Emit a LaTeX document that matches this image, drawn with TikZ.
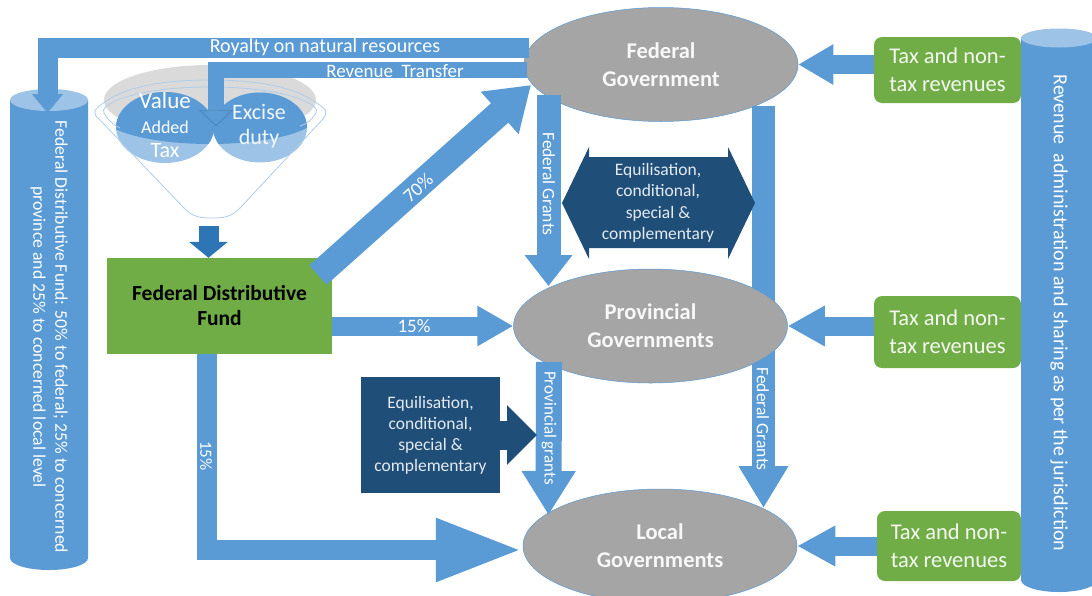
\documentclass[tikz,border=0pt]{standalone}
\usepackage{fontspec}
\setmainfont{Carlito}
\usetikzlibrary{shapes.geometric,arrows.meta}
\definecolor{barblue}{HTML}{5B9BD5}
\definecolor{lightblue}{HTML}{9DC3E6}
\definecolor{midblue}{HTML}{2E75B6}
\definecolor{navy}{HTML}{1F4E79}
\definecolor{govgrey}{HTML}{A5A5A5}
\definecolor{boxgreen}{HTML}{70AD47}
\definecolor{funnelgrey}{HTML}{DADADA}
\definecolor{funnelline}{HTML}{AECDEA}
\newcommand{\fs}[2]{\fontsize{#1}{#2}\selectfont}
\tikzset{
  gov/.style={ellipse,fill=govgrey,draw=barblue,line width=.5pt,minimum width=274pt,minimum height=114pt,inner sep=0pt,text=white!92!govgrey,align=center,font=\fs{22.5}{28}\bfseries},
  taxbox/.style={rectangle,rounded corners=8pt,fill=boxgreen,minimum width=147pt,inner sep=0pt,text=white!92!boxgreen,align=center,font=\fs{22.5}{28}},
  navybox/.style={rectangle,fill=navy,inner sep=0pt,text=white!88!navy,align=center,font=\fs{17.5}{21}},
  wlabel/.style={inner sep=0pt,text=white,align=center},
  bar/.style={draw=barblue,line join=miter},
  funnel/.style={draw=funnelline,line width=.8pt},
  cyl/.style={fill=barblue},
  cyltop/.style={fill=lightblue}
}
\begin{document}
\begin{tikzpicture}[x=1pt,y=-1pt]
\useasboundingbox (0,0) rectangle (1092,595);
\fill[white] (0,0) rectangle (1092,595);

% cylinders
\fill[cyl] (10,100) -- (10,558) arc[start angle=180,end angle=360,x radius=39,y radius=-12] -- (88,100) -- cycle;
\fill[cyltop] (49,100) ellipse[x radius=39,y radius=11];
\fill[cyl] (1021,38) -- (1021,580) arc[start angle=180,end angle=360,x radius=38,y radius=-12] -- (1097,38) -- cycle;
\fill[cyltop] (1059,38) ellipse[x radius=38,y radius=9.5];
\node[wlabel,rotate=-90,font=\fs{17.7}{22}] (leftcyl) at (49,337) {Federal Distributive Fund: 50\% to federal; 25\% to concerned\\province and 25\% to concerned local level};
\node[wlabel,rotate=-90,font=\fs{20}{22}] (rightcyl) at (1059,313) {Revenue\ \ administration and sharing as per the jurisdiction};

% funnel
\fill[funnelgrey] (210,100) ellipse[x radius=106,y radius=35];
\begin{scope}
  \fill[lightblue] (165,127.5) ellipse[x radius=49,y radius=35.5];
  \fill[lightblue] (260,127.5) ellipse[x radius=47,y radius=35];
  \clip (210,115) ellipse[x radius=108,y radius=29];
  \fill[barblue] (165,127.5) ellipse[x radius=49,y radius=35.5];
  \fill[barblue] (260,127.5) ellipse[x radius=47,y radius=35];
\end{scope}
\draw[funnel] (102,104) .. controls (125,86) and (165,80) .. (210,80) .. controls (255,80) and (295,86) .. (318,104) .. controls (328,110) and (327,114) .. (323,119) -- (240,208) .. controls (232,216) and (226,218) .. (212,218) .. controls (198,218) and (192,216) .. (184,208) -- (99,119) .. controls (93,114) and (93,110) .. (102,104) -- cycle;
\draw[funnel] (104,113) .. controls (98,106) and (130,87) .. (210,87) .. controls (290,87) and (322,106) .. (316,113) .. controls (310,122) and (306,124) .. (300,126);
\draw[funnel] (104,113) .. controls (108,120) and (112,124) .. (120,128);

% federal government first, its outgoing bars lie over it
\node[gov] (fed) at (661,64.5) {Federal\\Government};
\node[rectangle,fill=boxgreen,minimum width=225pt,minimum height=96pt,inner sep=0pt,align=center,font=\fs{21.5}{25}\bfseries,text=black] (fdf) at (219.5,306) {Federal Distributive\\Fund};

% right federal grants bar runs behind the provincial ellipse
\coordinate (fg2s) at (763.5,106);
\coordinate (fg2e) at (763.5,508);
\draw[bar,line width=23pt,-{Triangle[length=42pt,width=47pt]}] (fg2s) -- (fg2e);

\coordinate (fg1s) at (548.5,95);
\coordinate (fg1e) at (548.5,286);
\draw[bar,line width=24pt,-{Triangle[length=31pt,width=46pt]}] (fg1s) -- (fg1e);

\node[gov] (prov) at (650.5,326) {Provincial\\Governments};
\node[gov] (local) at (660,546) {Local\\Governments};

% royalty and transfer
\coordinate (royS) at (529,48);
\coordinate (royC) at (47.5,48);
\coordinate (royE) at (47.5,113);
\draw[bar,line width=20pt,-{Triangle[length=19pt,width=30pt]}] (royS) -- (royC) -- (royE);
\coordinate (revS) at (527,70);
\coordinate (revC) at (216,70);
\coordinate (revE) at (216,126);
\draw[bar,line width=16pt,-{Triangle[length=16pt,width=34pt,line width=.6pt,fill=barblue,color=barblue!82!black]}] (revS) -- (revC) -- (revE);
\node[wlabel,font=\fs{20}{22}] (roylab) at (325,47) {Royalty on natural resources};
\node[wlabel,font=\fs{19}{20}] (revlab) at (395,71) {Revenue\ \ Transfer};
\node[wlabel,font=\fs{23}{24}] (vat1) at (165,101) {Value};
\node[wlabel,font=\fs{18}{20}] (vat2) at (165,127) {Added};
\node[wlabel,font=\fs{22}{24}] (vat3) at (165,151) {Tax};
\node[wlabel,font=\fs{22}{25},text=white!92!barblue] (excise) at (259,126) {Excise\\duty};

% funnel to fund
\coordinate (fnlS) at (208.5,226);
\draw[draw=midblue,line width=20pt,-{Triangle[length=16pt,width=38pt]}] (fnlS) -- (fdf.north -| fnlS);

% fund to governments
\coordinate (a70s) at (318,275);
\coordinate (a70e) at (531,85);
\draw[bar,line width=26pt,-{Triangle[length=42pt,width=54pt]}] (a70s) -- (a70e);
\node[wlabel,rotate=42,font=\fs{19}{20}] (l70) at (418,188) {70\%};
\coordinate (a15s) at (fdf.east |- prov.west);
\draw[bar,line width=19pt,-{Triangle[length=36pt,width=38pt]}] (a15s) -- (prov.west);
\node[wlabel,font=\fs{19}{20}] (l15) at (414,326) {15\%};
\coordinate (lowS) at (207,354);
\coordinate (lowC) at (207,550);
\coordinate (lowE) at (local.west |- lowC);
\draw[bar,line width=20pt,-{Triangle[length=87pt,width=58pt]}] (lowS) -- (lowC) -- (lowE);
\node[wlabel,rotate=-90,font=\fs{17}{20}] (l15b) at (206,456) {15\%};

% grants labels
\node[wlabel,rotate=-90,font=\fs{17.5}{18}] (fglab1) at (549,184) {Federal Grants};
\node[wlabel,rotate=-90,font=\fs{17.5}{18}] (fglab2) at (763,419) {Federal Grants};

% provincial grants
\coordinate (pgs) at (549,362);
\coordinate (pge) at (548.5,515);
\draw[bar,line width=26pt,-{Triangle[length=44pt,width=51pt]}] (pgs) -- (pge);
\node[wlabel,rotate=-90,font=\fs{17}{18}] (pglab) at (549,428) {Provincial grants};

% navy shapes
\fill[navy] (562,203) -- (589,147) -- (589,157) -- (728,157) -- (728,147) -- (755,203) -- (728,259) -- (728,248) -- (589,248) -- (589,259) -- cycle;
\node[wlabel,text=white!88!navy,font=\fs{17.5}{21.5}] (eq1) at (658,203) {Equilisation,\\conditional,\\special \&\\complementary};
\node[navybox,minimum width=139pt,minimum height=116pt] (eq2) at (430.5,435) {Equilisation,\\conditional,\\special \&\\complementary};
\coordinate (navyEnd) at (537,435);
\draw[draw=navy,line width=29pt,-{Triangle[length=30pt,width=58pt]}] (eq2.east) -- (navyEnd);

% tax boxes and arrows
\node[taxbox,minimum height=66pt] (tax1) at (947.5,70) {Tax and non-\\tax revenues};
\node[taxbox,minimum height=72pt] (tax2) at (947.5,332) {Tax and non-\\tax revenues};
\node[taxbox,minimum width=144pt,minimum height=70pt] (tax3) at (949,546) {Tax and non-\\tax revenues};
\coordinate (t1) at (tax1.west |- fed.east);
\coordinate (t2) at (tax2.west |- prov.east);
\coordinate (t3) at (tax3.west |- local.east);
\draw[bar,line width=19pt,-{Triangle[length=35pt,width=38pt]}] (t1) -- (fed.east);
\draw[bar,line width=19pt,-{Triangle[length=37pt,width=38pt]}] (t2) -- (prov.east);
\draw[bar,line width=19pt,-{Triangle[length=38pt,width=38pt]}] (t3) -- (local.east);
\end{tikzpicture}
\end{document}
